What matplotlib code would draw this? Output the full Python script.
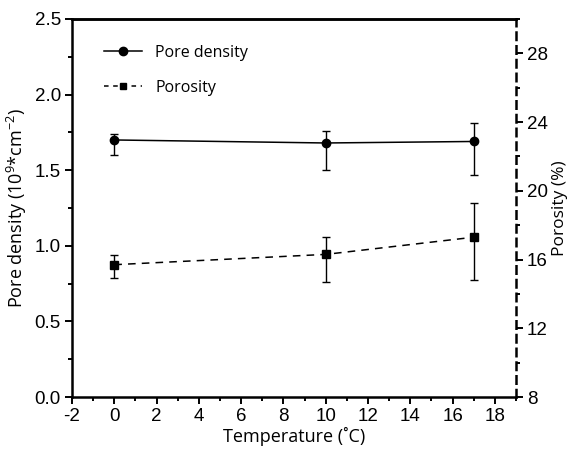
import matplotlib.pyplot as plt
from matplotlib.ticker import MultipleLocator
from matplotlib.lines import Line2D

temperature = [0, 10, 17]

pore_density = [1.70, 1.68, 1.69]
pore_err_low = [0.10, 0.18, 0.22]
pore_err_high = [0.04, 0.08, 0.12]

porosity = [15.7, 16.3, 17.3]
poro_err_low = [0.8, 1.6, 2.5]
poro_err_high = [0.55, 1.0, 2.0]

plt.rcParams['font.family'] = ['Liberation Sans', 'DejaVu Sans']
plt.rcParams['axes.unicode_minus'] = False
plt.rcParams['mathtext.fontset'] = 'custom'
plt.rcParams['mathtext.rm'] = 'Open Sans'
label_font = 'Open Sans'

fig = plt.figure(figsize=(5.75, 4.5), dpi=100)
ax = fig.add_axes([72 / 575, 53 / 450, 444 / 575, 378 / 450])
ax2 = ax.twinx()

ax.errorbar(temperature, pore_density, yerr=[pore_err_low, pore_err_high],
            color='k', marker='o', markersize=6, linestyle='-', linewidth=1.1,
            capsize=3, elinewidth=1, capthick=1)
ax2.errorbar(temperature, porosity, yerr=[poro_err_low, poro_err_high],
             color='k', marker='s', markersize=5.5, linestyle=(0, (5, 4)), linewidth=1.1,
             capsize=3, elinewidth=1, capthick=1)

ax.set_xlim(-2, 19)
ax.set_ylim(0, 2.5)
ax2.set_ylim(8, 30)

ax.xaxis.set_major_locator(MultipleLocator(2))
ax.xaxis.set_minor_locator(MultipleLocator(1))
ax.yaxis.set_major_locator(MultipleLocator(0.5))
ax.yaxis.set_minor_locator(MultipleLocator(0.25))
ax2.yaxis.set_major_locator(MultipleLocator(4))
ax2.yaxis.set_minor_locator(MultipleLocator(2))

for a in (ax, ax2):
    a.tick_params(which='major', direction='out', length=5, width=1.4, labelsize=13.5, pad=3)
    a.tick_params(which='minor', direction='out', length=3, width=1.4)
    for s in a.spines.values():
        s.set_linewidth(1.8)
ax.xaxis.set_ticks_position('bottom')
ax.spines['right'].set_visible(False)
ax2.spines['left'].set_visible(False)
ax2.spines['bottom'].set_visible(False)
ax2.spines['right'].set_linestyle((0, (3, 2.5)))

ax.set_xlabel('Temperature (˚C)', fontsize=13, family=label_font, labelpad=1)
ax.set_ylabel('Pore density (10$^9$*cm$^{-2}$)', fontsize=13, family=label_font, labelpad=4)
ax2.set_ylabel('Porosity (%)', fontsize=12.5, family=label_font, labelpad=3)

handles = [
    Line2D([], [], color='k', marker='o', markersize=6, linestyle='-', linewidth=1.1),
    Line2D([], [], color='k', marker='s', markersize=4.5, linestyle=(0, (3, 3)), linewidth=1.1),
]
ax.legend(handles, ['Pore density', 'Porosity'], loc='upper left', frameon=False,
          prop={'family': label_font, 'size': 11.5}, bbox_to_anchor=(0.04, 0.97),
          labelspacing=1.2, handlelength=2.4, handletextpad=0.8)

fig.savefig('out.png', dpi=100)
